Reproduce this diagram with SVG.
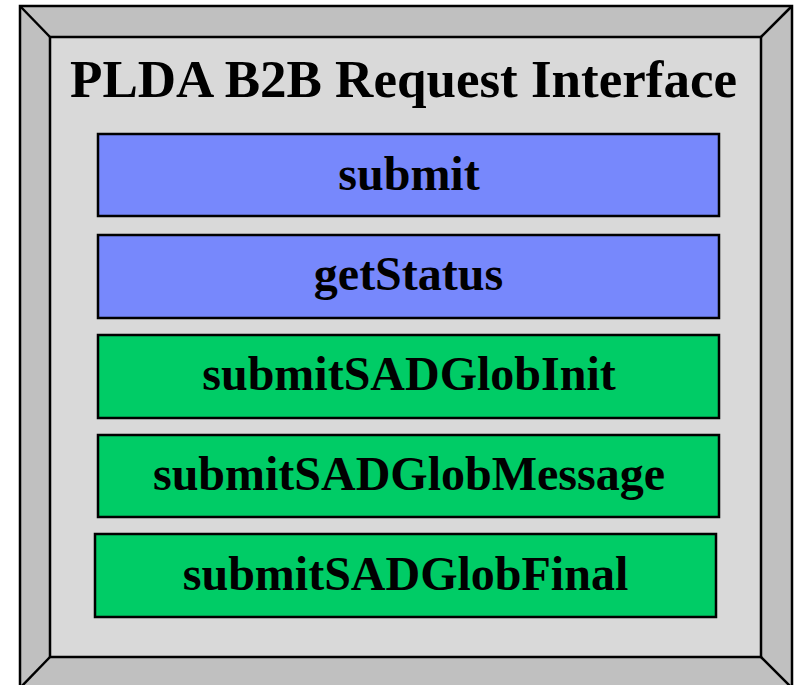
<svg xmlns="http://www.w3.org/2000/svg" width="803" height="685" viewBox="0 0 803 685">
<style>
.frame{fill:#c0c0c0;stroke:#000;stroke-width:2.5}
.inner{fill:#d9d9d9;stroke:#000;stroke-width:2.5}
.bevel{stroke:#000;stroke-width:2.5}
.blue{fill:#7788fc;stroke:#000;stroke-width:2.5}
.green{fill:#00cc66;stroke:#000;stroke-width:2.5}
text{font-family:"Liberation Serif","Times New Roman",serif;font-weight:bold;fill:#000;text-anchor:middle}
.t{font-size:52px}
.l{font-size:48px}
</style>
<g id="frame">
<rect class="frame" x="20" y="6" width="772" height="682"/>
<rect class="inner" x="50" y="37" width="711" height="620"/>
<line class="bevel" x1="20" y1="6" x2="50" y2="37"/>
<line class="bevel" x1="792" y1="6" x2="761" y2="37"/>
<line class="bevel" x1="20" y1="688" x2="50" y2="657"/>
<line class="bevel" x1="792" y1="688" x2="761" y2="657"/>
<text class="t" x="403.5" y="97" textLength="667" lengthAdjust="spacingAndGlyphs">PLDA B2B Request Interface</text>
</g>
<g id="submit">
<rect class="blue" x="98" y="134" width="621" height="82"/>
<text class="l" x="409" y="190">submit</text>
</g>
<g id="getStatus">
<rect class="blue" x="98" y="235" width="621" height="83"/>
<text class="l" x="408.5" y="290">getStatus</text>
</g>
<g id="submitSADGlobInit">
<rect class="green" x="98" y="335" width="621" height="83"/>
<text class="l" x="409" y="390">submitSADGlobInit</text>
</g>
<g id="submitSADGlobMessage">
<rect class="green" x="98" y="435" width="621" height="82"/>
<text class="l" x="409" y="490">submitSADGlobMessage</text>
</g>
<g id="submitSADGlobFinal">
<rect class="green" x="95" y="534" width="621" height="83"/>
<text class="l" x="405.5" y="590">submitSADGlobFinal</text>
</g>
<g id="connectors"/>
</svg>
